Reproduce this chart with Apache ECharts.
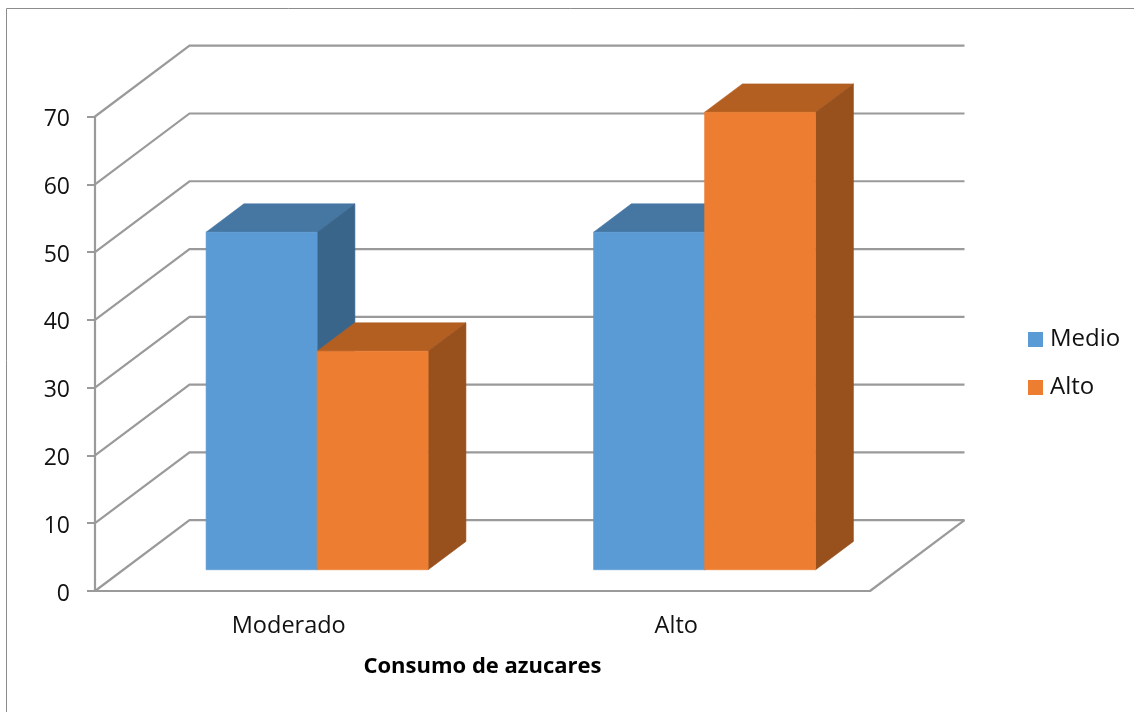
<!DOCTYPE html>
<html>
<head>
<meta charset="utf-8">
<style>
  html, body { margin: 0; padding: 0; background: #fff; }
  #chart { width: 1134px; height: 712px; }
</style>
<script src="https://cdn.jsdelivr.net/npm/echarts@6/dist/echarts.min.js"></script>
</head>
<body>
<div id="chart"></div>
<script>
// Consumption categories and the two series of the 3D column chart
const categories = ['Moderado', 'Alto'];
const medio = [49.8, 49.8];
const alto = [32.25, 67.5];
const yTicks = [0, 10, 20, 30, 40, 50, 60, 70];

// Oblique projection: how far the back wall sits from the front plane, in pixels
const WALL_DX = 94.5;
const WALL_DY = -70.8;
// Columns start 30% into the floor and take up 40% of its depth
const BAR_NEAR = 0.3;
const BAR_DEPTH = 0.4;
const BAR_WIDTH_RATIO = 0.2865;

const FONT = '"Open Sans", "Noto Sans", sans-serif';
const LINE = '#9a9a9a';

function shade(points, fill) {
  return {
    type: 'polygon',
    shape: { points },
    style: { fill, stroke: fill, lineWidth: 0.6 }
  };
}

// One column: front, top and right side faces, sheared along the depth direction
function columnRenderer(side, faces) {
  return function (params, api) {
    const base = api.coord([api.value(0), 0]);
    const top = api.coord([api.value(0), api.value(1)]);
    const w = api.size([1, 0])[0] * BAR_WIDTH_RATIO;
    const nx = WALL_DX * BAR_NEAR, ny = WALL_DY * BAR_NEAR;
    const dx = WALL_DX * BAR_DEPTH, dy = WALL_DY * BAR_DEPTH;
    const l = base[0] + nx + (side < 0 ? -w : 0);
    const r = l + w;
    const yb = base[1] + ny;
    const yt = top[1] + ny;
    return {
      type: 'group',
      children: [
        shade([[l, yt], [r, yt], [r + dx, yt + dy], [l + dx, yt + dy]], faces.top),
        shade([[r, yt], [r + dx, yt + dy], [r + dx, yb + dy], [r, yb]], faces.side),
        shade([[l, yt], [r, yt], [r, yb], [l, yb]], faces.front)
      ]
    };
  };
}

// Gridline for one tick: up the side wall, then across the back wall
function wallRenderer(params, api) {
  const sys = params.coordSys;
  const y = api.coord([0, api.value(1)])[1];
  const x0 = sys.x;
  const x1 = sys.x + sys.width;
  return {
    type: 'polyline',
    shape: {
      points: [[x0, y], [x0 + WALL_DX, y + WALL_DY], [x1 + WALL_DX, y + WALL_DY]]
    },
    style: { fill: null, stroke: LINE, lineWidth: 2.2 }
  };
}

// Right-hand edge of the floor
function floorRenderer(params, api) {
  const sys = params.coordSys;
  const y = api.coord([0, 0])[1];
  const x1 = sys.x + sys.width;
  return {
    type: 'line',
    shape: { x1, y1: y, x2: x1 + WALL_DX, y2: y + WALL_DY },
    style: { stroke: LINE, lineWidth: 2.2 }
  };
}

const chart = echarts.init(document.getElementById('chart'), null, { renderer: 'canvas' });

chart.setOption({
  animation: false,
  backgroundColor: '#ffffff',
  graphic: [{
    type: 'rect',
    silent: true,
    shape: { x: 6.5, y: 8.5, width: 1200, height: 800 },
    style: { fill: null, stroke: '#8c8c8c', lineWidth: 1 }
  }],
  grid: { left: 95, right: 264, top: 116.5, height: 474.5, containLabel: false },
  legend: {
    data: ['Medio', 'Alto'],
    orient: 'vertical',
    left: 1023,
    top: 321.5,
    icon: 'rect',
    itemWidth: 15,
    itemHeight: 15,
    itemGap: 22,
    textStyle: { fontFamily: FONT, fontSize: 24, lineHeight: 24, color: '#111111', padding: [2, 0, 0, 2] }
  },
  xAxis: {
    type: 'category',
    data: categories,
    name: 'Consumo de azucares',
    nameLocation: 'middle',
    nameGap: 65,
    nameTextStyle: { fontFamily: FONT, fontSize: 22, fontWeight: 'bold', color: '#000000' },
    axisLine: { show: true, lineStyle: { color: LINE, width: 2.2 } },
    axisTick: { show: false },
    axisLabel: { fontFamily: FONT, fontSize: 23.5, color: '#111111', margin: 23 }
  },
  yAxis: {
    type: 'value',
    min: 0,
    max: 70,
    interval: 10,
    splitLine: { show: false },
    axisLine: { show: true, lineStyle: { color: LINE, width: 2.2 } },
    axisTick: { show: true, length: 8, lineStyle: { color: LINE, width: 2 } },
    // A short line box aligned from its top sits the digits slightly below each tick
    axisLabel: { fontFamily: FONT, fontSize: 23, color: '#111111', margin: 25, verticalAlign: 'top', lineHeight: 6 }
  },
  series: [
    {
      type: 'custom',
      name: 'walls',
      z: 1,
      silent: true,
      renderItem: wallRenderer,
      encode: { x: 0, y: 1 },
      data: yTicks.map(t => [0, t])
    },
    {
      type: 'custom',
      name: 'floor',
      z: 1,
      silent: true,
      renderItem: floorRenderer,
      encode: { x: 0, y: 1 },
      data: [[0, 0]]
    },
    {
      type: 'custom',
      name: 'Medio',
      z: 2,
      itemStyle: { color: '#5b9bd5' },
      renderItem: columnRenderer(-1, { front: '#5b9bd5', top: '#4676a2', side: '#3a658b' }),
      encode: { x: 0, y: 1 },
      data: medio.map((v, i) => [i, v])
    },
    {
      type: 'custom',
      name: 'Alto',
      z: 3,
      itemStyle: { color: '#ed7d31' },
      renderItem: columnRenderer(1, { front: '#ed7d31', top: '#b45f22', side: '#98501c' }),
      encode: { x: 0, y: 1 },
      data: alto.map((v, i) => [i, v])
    }
  ]
});
</script>
</body>
</html>
